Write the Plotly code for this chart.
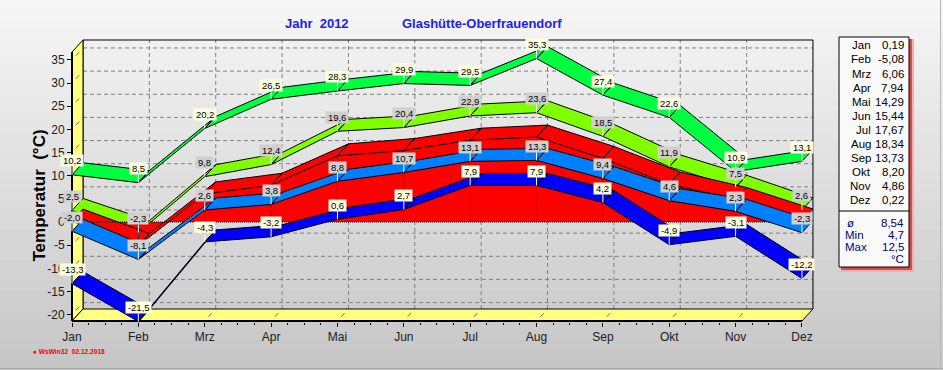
import plotly.graph_objects as go

# ---------------- data ----------------
MONTHS = ["Jan", "Feb", "Mrz", "Apr", "Mai", "Jun", "Jul", "Aug", "Sep", "Okt", "Nov", "Dez"]
ABS_MAX = [10.2, 8.5, 20.2, 26.5, 28.3, 29.9, 29.5, 35.3, 27.4, 22.6, 10.9, 13.1]
MEAN_MAX = [2.5, -2.3, 9.8, 12.4, 19.6, 20.4, 22.9, 23.6, 18.5, 11.9, 7.5, 2.6]
MEAN = [0.19, -5.08, 6.06, 7.94, 14.29, 15.44, 17.67, 18.34, 13.73, 8.20, 4.86, 0.22]
MEAN_MIN = [-2.0, -8.1, 2.6, 3.8, 8.8, 10.7, 13.1, 13.3, 9.4, 4.6, 2.3, -2.3]
ABS_MIN = [-13.3, -21.5, -4.3, -3.2, 0.6, 2.7, 7.9, 7.9, 4.2, -4.9, -3.1, -12.2]
STAT_NAMES = ["ø", "Min", "Max"]
STAT_VALUES = [8.54, 4.7, 12.5]
STAT_DECIMALS = [2, 1, 1]
Y_TICKS = [-20, -15, -10, -5, 0, 5, 10, 15, 20, 25, 30, 35]
TITLE_YEAR = "Jahr\u00a0\u00a02012"
TITLE_STATION = "Glashütte-Oberfrauendorf"
Y_TITLE = "Temperatur\u00a0\u00a0(°C)"
FOOTER = "WsWin32\u00a0\u00a002.12.2018"

# ---------------- geometry ----------------
W, H = 943, 370
X0_PX, PX_PER_MONTH = 72, 66.36
Y0_PX, PX_PER_DEG = 222, 4.63
DEPTH_PX_X, DEPTH_PX_Y = 11, 12
M_L, M_R, M_T, M_B = 60, 113, 30, 40
plot_w = W - M_L - M_R
plot_h = H - M_T - M_B
x_range = [(M_L - X0_PX) / PX_PER_MONTH, (W - M_R - X0_PX) / PX_PER_MONTH]
y_range = [(Y0_PX - (H - M_B)) / PX_PER_DEG, (Y0_PX - M_T) / PX_PER_DEG]
DX = DEPTH_PX_X / PX_PER_MONTH
DY = DEPTH_PX_Y / PX_PER_DEG
FLOOR = (Y0_PX - 321) / PX_PER_DEG
WALL_TOP = (Y0_PX - 52) / PX_PER_DEG
N = len(MONTHS)
LAST = N - 1


def px(x):
    return (x - M_L) / plot_w


def py(y):
    return (H - M_B - y) / plot_h


def fmt(v, d=1):
    return f"{v:.{d}f}".replace(".", ",")


FONT = "Liberation Sans, Arial, sans-serif"

fig = go.Figure()


def ribbon(vals, color):
    xs, ys = [], []
    for i in range(len(vals) - 1):
        xs += [i, i + 1, i + 1 + DX, i + DX, i, None]
        ys += [vals[i], vals[i + 1], vals[i + 1] + DY, vals[i] + DY, vals[i], None]
    return go.Scatter(x=xs, y=ys, mode="lines", fill="toself", fillcolor=color,
                      line=dict(color="black", width=1), hoverinfo="skip",
                      showlegend=False)


# absolute max, mean max
fig.add_trace(ribbon(ABS_MAX, "#00FF40"))
fig.add_trace(ribbon(MEAN_MAX, "#80FF00"))

# mean: red area down to zero
fig.add_trace(go.Scatter(x=[0] + list(range(N)) + [LAST], y=[0] + MEAN + [0],
                         mode="lines", fill="toself", fillcolor="#FF0000",
                         line=dict(color="#FF0000", width=0), hoverinfo="skip",
                         showlegend=False))
fig.add_trace(ribbon(MEAN, "#FF0000"))
dx_, dy_ = [0, LAST, None], [0, 0, None]
for i, v in enumerate(MEAN):
    dx_ += [i, i, None]
    dy_ += [0, v, None]
fig.add_trace(go.Scatter(x=dx_, y=dy_, mode="lines",
                         line=dict(color="black", width=1, dash="1px,1px"),
                         hoverinfo="skip", showlegend=False))

# mean min, absolute min
fig.add_trace(ribbon(MEAN_MIN, "#0080FF"))
fig.add_trace(ribbon(ABS_MIN, "#0000FF"))

# ---------------- shapes ----------------
shapes = []
# background gradient
BANDS = 37
for k in range(BANDS):
    t = k / (BANDS - 1)
    c = int(round(246 - (246 - 198) * t))
    shapes.append(dict(type="rect", xref="paper", yref="paper", layer="below",
                       x0=px(0), x1=px(W), y0=py(k * 10), y1=py(k * 10 + 10.5),
                       fillcolor=f"rgb({c},{c},{c})", line=dict(width=0)))
# frame lines
shapes.append(dict(type="line", xref="paper", yref="paper", layer="below",
                   x0=px(0), x1=px(W), y0=py(368.5), y1=py(368.5),
                   line=dict(color="#A8A8A8", width=1)))
shapes.append(dict(type="line", xref="paper", yref="paper", layer="below",
                   x0=px(940.5), x1=px(940.5), y0=py(0), y1=py(369),
                   line=dict(color="#B8B8B8", width=1)))

# back wall grid
GRID = dict(color="#808080", width=1, dash="4px,3px")
for v in Y_TICKS:
    shapes.append(dict(type="line", xref="x", yref="y", layer="below",
                       x0=DX, x1=LAST + DX, y0=v + DY, y1=v + DY, line=GRID))
for i in range(1, LAST):
    shapes.append(dict(type="line", xref="x", yref="y", layer="below",
                       x0=i + DX, x1=i + DX, y0=FLOOR + DY, y1=WALL_TOP + DY, line=GRID))
# back wall border
BL = dict(color="black", width=1)
shapes.append(dict(type="path", xref="x", yref="y", layer="below",
                   path=f"M {DX} {FLOOR + DY} L {DX} {WALL_TOP + DY} L {LAST + DX} {WALL_TOP + DY} L {LAST + DX} {FLOOR + DY}",
                   line=BL))
# left (yellow) wall
shapes.append(dict(type="path", xref="x", yref="y", layer="below",
                   path=f"M 0 {FLOOR} L 0 {WALL_TOP} L {DX} {WALL_TOP + DY} L {DX} {FLOOR + DY} Z",
                   fillcolor="#FFFF80", line=BL))
# floor
shapes.append(dict(type="path", xref="x", yref="y", layer="below",
                   path=f"M 0 {FLOOR} L {LAST} {FLOOR} L {LAST + DX} {FLOOR + DY} L {DX} {FLOOR + DY} Z",
                   fillcolor="#FFFF80", line=BL))
# small 3D tick marks on wall and floor
TK = dict(color="#707070", width=1)
for v in Y_TICKS:
    shapes.append(dict(type="line", xref="x", yref="y", layer="below",
                       x0=0.35 * DX, x1=0.65 * DX, y0=v + 0.35 * DY, y1=v + 0.65 * DY, line=TK))
for i in range(1, N):
    shapes.append(dict(type="line", xref="x", yref="y", layer="below",
                       x0=i + 0.35 * DX, x1=i + 0.65 * DX,
                       y0=FLOOR + 0.35 * DY, y1=FLOOR + 0.65 * DY, line=TK))
# front edges
shapes.append(dict(type="line", xref="x", yref="y", layer="above",
                   x0=0, x1=0, y0=FLOOR, y1=WALL_TOP, line=dict(color="black", width=2)))
shapes.append(dict(type="line", xref="x", yref="y", layer="above",
                   x0=0, x1=LAST, y0=FLOOR, y1=FLOOR, line=dict(color="black", width=2)))

# legend box (right)
BX0, BX1, BY0, BY1 = 839, 909, 37, 267
shapes.append(dict(type="rect", xref="paper", yref="paper", layer="above",
                   x0=px(BX0 + 2), x1=px(BX1 + 5), y0=py(BY1 + 5), y1=py(BY0 + 2),
                   fillcolor="#F2B0B0", line=dict(width=0)))
shapes.append(dict(type="rect", xref="paper", yref="paper", layer="above",
                   x0=px(BX0 + 2), x1=px(BX1 + 3), y0=py(BY1 + 3), y1=py(BY0 + 2),
                   fillcolor="#E04848", line=dict(width=0)))
shapes.append(dict(type="rect", xref="paper", yref="paper", layer="above",
                   x0=px(BX0), x1=px(BX1), y0=py(BY1), y1=py(BY0),
                   fillcolor="#FAFAFA", line=dict(color="black", width=1)))
shapes.append(dict(type="line", xref="paper", yref="paper", layer="above",
                   x0=px(BX0), x1=px(BX1), y0=py(211), y1=py(211),
                   line=dict(color="black", width=1)))

# ---------------- annotations ----------------
ann = []
LABEL_SETS = [(ABS_MAX, "#FFFFE0"), (MEAN_MAX, "#D0D0D0"),
              (MEAN_MIN, "#D0D0D0"), (ABS_MIN, "#FFFFE0")]
for vals, bg in LABEL_SETS:
    for i, v in enumerate(vals):
        ann.append(dict(x=i, y=v, xref="x", yref="y",
                        text="\u2009" + fmt(v) + "\u2009",
                        showarrow=True, ax=0, ay=-14, arrowhead=0, arrowwidth=1,
                        arrowcolor="white", standoff=0, bgcolor=bg, borderpad=0,
                        font=dict(family=FONT, size=9.5, color="black")))

# titles
ann.append(dict(x=px(283), y=py(24), xref="paper", yref="paper", text=f"<b>{TITLE_YEAR}</b>",
                showarrow=False, xanchor="left", yanchor="middle",
                font=dict(family=FONT, size=13, color="#2020F0")))
ann.append(dict(x=px(400), y=py(24), xref="paper", yref="paper", text=f"<b>{TITLE_STATION}</b>",
                showarrow=False, xanchor="left", yanchor="middle",
                font=dict(family=FONT, size=13, color="#2020F0")))
ann.append(dict(x=px(38.5), y=py(196), xref="paper", yref="paper", text=f"<b>{Y_TITLE}</b>",
                showarrow=False, textangle=-90, xanchor="center", yanchor="middle",
                font=dict(family=FONT, size=17, color="black")))
ann.append(dict(x=px(31), y=py(351), xref="paper", yref="paper",
                text=f"<b>●\u00a0{FOOTER}</b>", showarrow=False,
                xanchor="left", yanchor="middle",
                font=dict(family=FONT, size=6.6, color="#FF0000")))

# legend content
for k, (m, v) in enumerate(zip(MONTHS, MEAN)):
    yy = 45.3 + 14.1 * k
    ann.append(dict(x=px(873), y=py(yy), xref="paper", yref="paper", text=m,
                    showarrow=False, xanchor="right", yanchor="middle",
                    font=dict(family=FONT, size=11.5, color="black")))
    ann.append(dict(x=px(906), y=py(yy), xref="paper", yref="paper", text=fmt(v, 2),
                    showarrow=False, xanchor="right", yanchor="middle",
                    font=dict(family=FONT, size=11.5, color="black")))
STAT_Y = [223, 235, 247.3]
for name, val, dec, yy in zip(STAT_NAMES, STAT_VALUES, STAT_DECIMALS, STAT_Y):
    ann.append(dict(x=px(843 if name != "ø" else 845), y=py(yy), xref="paper", yref="paper",
                    text=name, showarrow=False, xanchor="left", yanchor="middle",
                    font=dict(family=FONT, size=11.5, color="#000080")))
    ann.append(dict(x=px(906), y=py(yy), xref="paper", yref="paper", text=fmt(val, dec),
                    showarrow=False, xanchor="right", yanchor="middle",
                    font=dict(family=FONT, size=11.5, color="#000080")))
ann.append(dict(x=px(906), y=py(258.5), xref="paper", yref="paper", text="°C",
                showarrow=False, xanchor="right", yanchor="middle",
                font=dict(family=FONT, size=11.5, color="#000080")))

minor_vals = [i + q / 4 for i in range(LAST) for q in (1, 2, 3)]

fig.update_layout(
    width=W, height=H,
    margin=dict(l=M_L, r=M_R, t=M_T, b=M_B, pad=0),
    paper_bgcolor="#DDDDDD", plot_bgcolor="rgba(0,0,0,0)",
    showlegend=False,
    shapes=shapes, annotations=ann,
    xaxis=dict(range=x_range, tickvals=list(range(N)), ticktext=MONTHS,
               ticks="outside", ticklen=4, tickcolor="black", tickwidth=1,
               showgrid=False, zeroline=False, showline=False,
               anchor="free", position=py(321.5),
               minor=dict(tickvals=minor_vals, ticks="outside", ticklen=2,
                          tickcolor="black", showgrid=False),
               tickfont=dict(family=FONT, size=12, color="#202020"),
               fixedrange=True),
    yaxis=dict(range=y_range, tickvals=Y_TICKS, ticktext=[str(v) for v in Y_TICKS],
               ticks="outside", ticklen=5, tickcolor="black", tickwidth=1,
               showgrid=False, zeroline=False, showline=False,
               anchor="free", position=px(72),
               tickfont=dict(family=FONT, size=12, color="#202020"),
               fixedrange=True),
)

fig.write_html("out.html", config={"displayModeBar": False},
               post_script="document.body.style.margin='0';document.body.style.overflow='hidden';")
